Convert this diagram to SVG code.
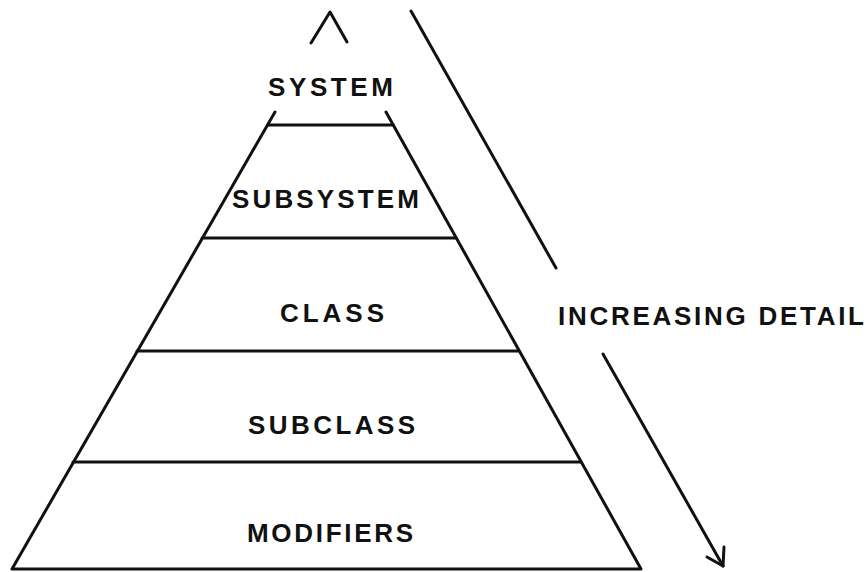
<svg xmlns="http://www.w3.org/2000/svg" width="866" height="572" viewBox="0 0 866 572">
<style>
.ln{stroke:#111;stroke-width:3;fill:none;stroke-linecap:round;stroke-linejoin:round}
.t{font-family:"Liberation Sans",Arial,sans-serif;font-weight:bold;font-size:26px;fill:#111}
</style>
<rect width="866" height="572" fill="#fff"/>
<g id="pyramid">
<path class="ln" d="M311,43 L330,12 L347,42"/>
<path class="ln" d="M275,112 L12,569 L641,569 L386,112"/>
</g>
<g id="system"><text class="t" x="268" y="96" textLength="125" lengthAdjust="spacing">SYSTEM</text></g>
<g id="subsystem"><line class="ln" x1="268" y1="125" x2="393" y2="125"/><text class="t" x="232" y="208" textLength="187" lengthAdjust="spacing">SUBSYSTEM</text></g>
<g id="class"><line class="ln" x1="202" y1="238" x2="456" y2="238"/><text class="t" x="280" y="322" textLength="104" lengthAdjust="spacing">CLASS</text></g>
<g id="subclass"><line class="ln" x1="137" y1="351" x2="519" y2="351"/><text class="t" x="248" y="434" textLength="167" lengthAdjust="spacing">SUBCLASS</text></g>
<g id="modifiers"><line class="ln" x1="73" y1="462" x2="581" y2="462"/><text class="t" x="247" y="542" textLength="166" lengthAdjust="spacing">MODIFIERS</text></g>
<g id="connectors">
<line class="ln" x1="411" y1="11" x2="556" y2="268"/>
<line class="ln" x1="603" y1="354" x2="723" y2="566"/>
<path class="ln" d="M707,557 L723,566 L724,547"/>
</g>
<g id="label"><text class="t" x="558" y="325" textLength="306" lengthAdjust="spacing">INCREASING DETAIL</text></g>
</svg>
